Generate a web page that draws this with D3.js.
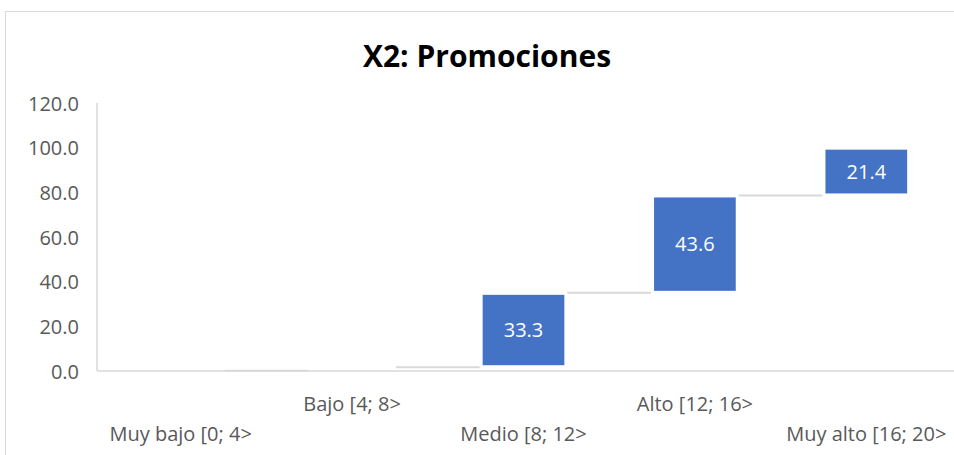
<!DOCTYPE html>
<html>
<head>
<meta charset="utf-8">
<script src="https://cdn.jsdelivr.net/npm/d3@7"></script>
<style>
    body { margin: 0; background: #fff; }
    #chart { width: 954px; height: 455px; }
</style>
</head>
<body>
<div id="chart"></div>
<script>
// Waterfall data
const categories = ["Muy bajo [0; 4>", "Bajo [4; 8>", "Medio [8; 12>", "Alto [12; 16>", "Muy alto [16; 20>"];
const values = [0.1, 1.6, 33.3, 43.6, 21.4];
const yTicks = [0, 20, 40, 60, 80, 100, 120];
const chartTitle = "X2: Promociones";

function drawWaterfall() {
    const width = 954;
    const height = 455;
    const margin = { top: 105, right: 2, bottom: 84, left: 95 };
    const inset = 2; // white edge around each bar

    const svg = d3.select("#chart")
        .html("")
        .append("svg")
        .attr("width", width)
        .attr("height", height);

    // Chart area border
    svg.append("rect")
        .attr("x", 5.5)
        .attr("y", 11.5)
        .attr("width", width + 10)
        .attr("height", height)
        .attr("fill", "none")
        .attr("stroke", "#d9d9d9");

    // Build running totals
    let running = 0;
    const steps = categories.map((c, i) => {
        const start = running;
        running += values[i];
        return { cat: c, value: values[i], start: start, end: running };
    });

    const x = d3.scaleBand()
        .domain(categories)
        .range([margin.left, width - margin.right])
        .paddingInner(0.5)
        .paddingOuter(0.25);

    const y = d3.scaleLinear()
        .domain([0, 120])
        .range([height - margin.bottom, margin.top - 2]);

    // Title
    svg.append("text")
        .attr("x", 487)
        .attr("y", 67)
        .attr("text-anchor", "middle")
        .attr("font-family", "Open Sans, sans-serif")
        .attr("font-weight", "bold")
        .attr("font-size", "30px")
        .attr("fill", "#000")
        .text(chartTitle);

    // Y axis (labels only)
    const yAxis = svg.append("g")
        .attr("transform", `translate(${margin.left - 13},0)`)
        .call(d3.axisLeft(y).tickValues(yTicks).tickFormat(d3.format(".1f")).tickSize(0));
    yAxis.select(".domain").remove();
    yAxis.selectAll("text")
        .attr("font-family", "Open Sans, sans-serif")
        .attr("font-size", "20px")
        .attr("fill", "#595959")
        .attr("dy", "0.35em");

    // Axis lines
    svg.append("line")
        .attr("x1", margin.left + 2).attr("x2", margin.left + 2)
        .attr("y1", y(120)).attr("y2", y(0))
        .attr("stroke", "#d9d9d9").attr("stroke-width", 1.5);
    svg.append("line")
        .attr("x1", margin.left + 2).attr("x2", width)
        .attr("y1", y(0)).attr("y2", y(0))
        .attr("stroke", "#d9d9d9").attr("stroke-width", 1.5);

    // Connector lines between bars
    svg.selectAll(".connector")
        .data(steps.slice(0, -1))
        .join("line")
        .attr("class", "connector")
        .attr("x1", (d) => x(d.cat) + x.bandwidth() + 1)
        .attr("x2", (d, i) => x(categories[i + 1]) - 1)
        .attr("y1", (d) => y(d.end))
        .attr("y2", (d) => y(d.end))
        .attr("stroke", "#d9d9d9")
        .attr("stroke-width", 2);

    // Bars (inset so very small steps vanish like in the original)
    svg.selectAll(".bar")
        .data(steps)
        .join("rect")
        .attr("class", "bar")
        .attr("x", (d) => x(d.cat) + inset)
        .attr("y", (d) => y(d.end) + inset)
        .attr("width", x.bandwidth() - 2 * inset)
        .attr("height", (d) => Math.max(0, y(d.start) - y(d.end) - 2 * inset))
        .attr("fill", "#4472c4");

    // Value labels inside the larger bars
    svg.selectAll(".val")
        .data(steps.filter((d) => d.value > 5))
        .join("text")
        .attr("class", "val")
        .attr("x", (d) => x(d.cat) + x.bandwidth() / 2)
        .attr("y", (d) => y((d.start + d.end) / 2))
        .attr("dy", "0.35em")
        .attr("text-anchor", "middle")
        .attr("font-family", "Open Sans, sans-serif")
        .attr("font-size", "20px")
        .attr("fill", "#fff")
        .text((d) => d3.format(".1f")(d.value));

    // Staggered category labels
    svg.selectAll(".cat")
        .data(categories)
        .join("text")
        .attr("class", "cat")
        .attr("x", (d) => x(d) + x.bandwidth() / 2)
        .attr("y", (d, i) => (i % 2 === 0 ? 441 : 411))
        .attr("text-anchor", "middle")
        .attr("font-family", "Open Sans, sans-serif")
        .attr("font-size", "20px")
        .attr("fill", "#595959")
        .text((d) => d);
}

drawWaterfall();
</script>
</body>
</html>
